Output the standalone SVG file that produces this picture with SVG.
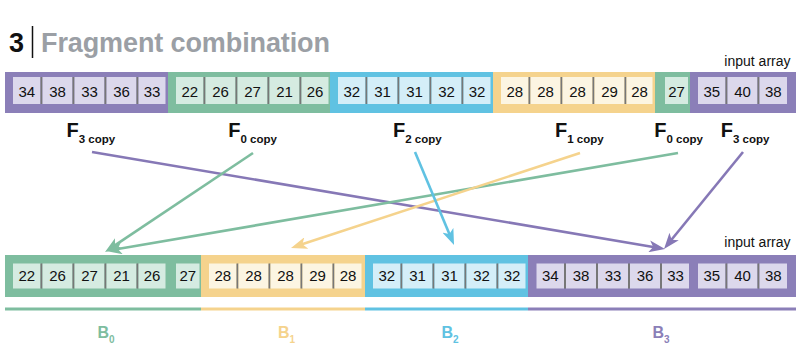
<svg xmlns="http://www.w3.org/2000/svg" width="800" height="352" viewBox="0 0 800 352">
<style>
text{font-family:"Liberation Sans",Arial,Helvetica,sans-serif}
.num{font-size:15px;fill:#111;text-anchor:middle}
.sep{fill:#777}
.bp{fill:#8b7fb8}.bg{fill:#7ebd9f}.bb{fill:#60c2e2}.by{fill:#f5d38d}
.cp{fill:#dcd8ec}.cg{fill:#d5ebe1}.cb{fill:#d4eef8}.cy{fill:#fcf5e2}
.lbl{font-size:20px;font-weight:bold;fill:#111}
.sub{font-size:11.5px}
.blbl{font-size:16px;font-weight:bold;text-anchor:middle}
.bsub{font-size:10px}
.cap{font-size:14px;fill:#111;text-anchor:end}
.arr{fill:none;stroke-width:2.6}
</style>
<defs>
<marker id="mp" markerUnits="userSpaceOnUse" markerWidth="16" markerHeight="12" refX="10" refY="6" orient="auto"><path d="M0,0 L16,6 L0,12 L4,6 z" fill="#8678b6"/></marker>
<marker id="mg" markerUnits="userSpaceOnUse" markerWidth="16" markerHeight="12" refX="10" refY="6" orient="auto"><path d="M0,0 L16,6 L0,12 L4,6 z" fill="#7ebd9f"/></marker>
<marker id="my" markerUnits="userSpaceOnUse" markerWidth="16" markerHeight="12" refX="10" refY="6" orient="auto"><path d="M0,0 L16,6 L0,12 L4,6 z" fill="#f5d38d"/></marker>
<marker id="mb" markerUnits="userSpaceOnUse" markerWidth="16" markerHeight="12" refX="10" refY="6" orient="auto"><path d="M0,0 L16,6 L0,12 L4,6 z" fill="#60c2e2"/></marker>
</defs>
<rect width="800" height="352" fill="#fff"/>

<g id="title">
<text x="9" y="51.5" font-size="27" font-weight="bold" fill="#111">3</text>
<line x1="32.5" y1="26" x2="32.5" y2="58" stroke="#111" stroke-width="1.5"/>
<text x="41" y="51.5" font-size="27" font-weight="bold" fill="#9b9fa5" textLength="289">Fragment combination</text>
</g>

<g id="top-array">
<text class="cap" x="790.5" y="66">input array</text>
<g id="top-f3">
<rect class="bp" x="5" y="72" width="163" height="41"/>
<rect class="cp" x="13" y="77" width="27.5" height="27"/><rect class="sep" x="40.5" y="77" width="2" height="27"/>
<rect class="cp" x="42.5" y="77" width="30" height="27"/><rect class="sep" x="72.5" y="77" width="2" height="27"/>
<rect class="cp" x="74.5" y="77" width="30" height="27"/><rect class="sep" x="104.5" y="77" width="2" height="27"/>
<rect class="cp" x="106.5" y="77" width="30" height="27"/><rect class="sep" x="136.5" y="77" width="2" height="27"/>
<rect class="cp" x="138.5" y="77" width="27" height="27"/>
<text class="num" x="26.75" y="96.5">34</text><text class="num" x="57.5" y="96.5">38</text><text class="num" x="89.5" y="96.5">33</text><text class="num" x="121.5" y="96.5">36</text><text class="num" x="152" y="96.5">33</text>
</g>
<g id="top-f0">
<rect class="bg" x="168" y="72" width="162" height="41"/>
<rect class="cg" x="176" y="77" width="27.5" height="27"/><rect class="sep" x="203.5" y="77" width="2" height="27"/>
<rect class="cg" x="205.5" y="77" width="30" height="27"/><rect class="sep" x="235.5" y="77" width="2" height="27"/>
<rect class="cg" x="237.5" y="77" width="30" height="27"/><rect class="sep" x="267.5" y="77" width="2" height="27"/>
<rect class="cg" x="269.5" y="77" width="30" height="27"/><rect class="sep" x="299.5" y="77" width="2" height="27"/>
<rect class="cg" x="301.5" y="77" width="27" height="27"/>
<text class="num" x="189.75" y="96.5">22</text><text class="num" x="220.5" y="96.5">26</text><text class="num" x="252.5" y="96.5">27</text><text class="num" x="284.5" y="96.5">21</text><text class="num" x="315" y="96.5">26</text>
</g>
<g id="top-f2">
<rect class="bb" x="330" y="72" width="163" height="41"/>
<rect class="cb" x="338" y="77" width="27.5" height="27"/><rect class="sep" x="365.5" y="77" width="2" height="27"/>
<rect class="cb" x="367.5" y="77" width="30" height="27"/><rect class="sep" x="397.5" y="77" width="2" height="27"/>
<rect class="cb" x="399.5" y="77" width="30" height="27"/><rect class="sep" x="429.5" y="77" width="2" height="27"/>
<rect class="cb" x="431.5" y="77" width="30" height="27"/><rect class="sep" x="461.5" y="77" width="2" height="27"/>
<rect class="cb" x="463.5" y="77" width="27" height="27"/>
<text class="num" x="351.75" y="96.5">32</text><text class="num" x="382.5" y="96.5">31</text><text class="num" x="414.5" y="96.5">31</text><text class="num" x="446.5" y="96.5">32</text><text class="num" x="477" y="96.5">32</text>
</g>
<g id="top-f1">
<rect class="by" x="493" y="72" width="162" height="41"/>
<rect class="cy" x="501" y="77" width="27.5" height="27"/><rect class="sep" x="528.5" y="77" width="2" height="27"/>
<rect class="cy" x="530.5" y="77" width="30" height="27"/><rect class="sep" x="560.5" y="77" width="2" height="27"/>
<rect class="cy" x="562.5" y="77" width="30" height="27"/><rect class="sep" x="592.5" y="77" width="2" height="27"/>
<rect class="cy" x="594.5" y="77" width="30" height="27"/><rect class="sep" x="624.5" y="77" width="2" height="27"/>
<rect class="cy" x="626.5" y="77" width="26" height="27"/>
<text class="num" x="514.75" y="96.5">28</text><text class="num" x="545.5" y="96.5">28</text><text class="num" x="577.5" y="96.5">28</text><text class="num" x="609.5" y="96.5">29</text><text class="num" x="639.5" y="96.5">28</text>
</g>
<g id="top-f0b">
<rect class="bg" x="655" y="72" width="35" height="41"/>
<rect class="cg" x="665" y="77" width="23" height="27"/>
<text class="num" x="676.5" y="96.5">27</text>
</g>
<g id="top-f3b">
<rect class="bp" x="690" y="72" width="106" height="41"/>
<rect class="cp" x="698" y="77" width="27.5" height="27"/><rect class="sep" x="725.5" y="77" width="2" height="27"/>
<rect class="cp" x="727.5" y="77" width="30" height="27"/><rect class="sep" x="757.5" y="77" width="2" height="27"/>
<rect class="cp" x="759.5" y="77" width="27.5" height="27"/>
<text class="num" x="711.75" y="96.5">35</text><text class="num" x="742.5" y="96.5">40</text><text class="num" x="773.25" y="96.5">38</text>
</g>
</g>

<g id="labels">
<text class="lbl" x="66.5" y="137">F<tspan class="sub" dy="5.5">3 copy</tspan></text>
<text class="lbl" x="228.3" y="137">F<tspan class="sub" dy="5.5">0 copy</tspan></text>
<text class="lbl" x="393" y="137">F<tspan class="sub" dy="5.5">2 copy</tspan></text>
<text class="lbl" x="555" y="137">F<tspan class="sub" dy="5.5">1 copy</tspan></text>
<text class="lbl" x="654.3" y="137">F<tspan class="sub" dy="5.5">0 copy</tspan></text>
<text class="lbl" x="720.7" y="137">F<tspan class="sub" dy="5.5">3 copy</tspan></text>
</g>

<g id="connectors">
<line class="arr" x1="92" y1="152" x2="659.1" y2="248" stroke="#8678b6" marker-end="url(#mp)"/>
<line class="arr" x1="253" y1="153" x2="110" y2="248.7" stroke="#7ebd9f" marker-end="url(#mg)"/>
<line class="arr" x1="678" y1="153" x2="111.9" y2="250" stroke="#7ebd9f" marker-end="url(#mg)"/>
<line class="arr" x1="580" y1="153" x2="296.7" y2="246.1" stroke="#f5d38d" marker-end="url(#my)"/>
<line class="arr" x1="415" y1="152" x2="451.7" y2="239.5" stroke="#60c2e2" marker-end="url(#mb)"/>
<line class="arr" x1="743" y1="152" x2="667.8" y2="244.3" stroke="#8678b6" marker-end="url(#mp)"/>
</g>

<g id="bottom-array">
<text class="cap" x="790.5" y="247">input array</text>
<g id="bottom-b0">
<rect class="bg" x="5" y="255" width="196" height="42"/>
<rect class="cg" x="13" y="263.5" width="27.5" height="25"/><rect class="sep" x="40.5" y="263.5" width="2" height="25"/>
<rect class="cg" x="42.5" y="263.5" width="30" height="25"/><rect class="sep" x="72.5" y="263.5" width="2" height="25"/>
<rect class="cg" x="74.5" y="263.5" width="30" height="25"/><rect class="sep" x="104.5" y="263.5" width="2" height="25"/>
<rect class="cg" x="106.5" y="263.5" width="30" height="25"/><rect class="sep" x="136.5" y="263.5" width="2" height="25"/>
<rect class="cg" x="138.5" y="263.5" width="27" height="25"/>
<rect class="cg" x="176" y="263.5" width="23.5" height="25"/>
<text class="num" x="26.75" y="281">22</text><text class="num" x="57.5" y="281">26</text><text class="num" x="89.5" y="281">27</text><text class="num" x="121.5" y="281">21</text><text class="num" x="152" y="281">26</text><text class="num" x="187.75" y="281">27</text>
</g>
<g id="bottom-b1">
<rect class="by" x="201" y="255" width="164" height="42"/>
<rect class="cy" x="209" y="263.5" width="27.5" height="25"/><rect class="sep" x="236.5" y="263.5" width="2" height="25"/>
<rect class="cy" x="238.5" y="263.5" width="30" height="25"/><rect class="sep" x="268.5" y="263.5" width="2" height="25"/>
<rect class="cy" x="270.5" y="263.5" width="30" height="25"/><rect class="sep" x="300.5" y="263.5" width="2" height="25"/>
<rect class="cy" x="302.5" y="263.5" width="30" height="25"/><rect class="sep" x="332.5" y="263.5" width="2" height="25"/>
<rect class="cy" x="334.5" y="263.5" width="27" height="25"/>
<text class="num" x="222.75" y="281">28</text><text class="num" x="253.5" y="281">28</text><text class="num" x="285.5" y="281">28</text><text class="num" x="317.5" y="281">29</text><text class="num" x="348" y="281">28</text>
</g>
<g id="bottom-b2">
<rect class="bb" x="365" y="255" width="163" height="42"/>
<rect class="cb" x="373" y="263.5" width="27.5" height="25"/><rect class="sep" x="400.5" y="263.5" width="2" height="25"/>
<rect class="cb" x="402.5" y="263.5" width="30" height="25"/><rect class="sep" x="432.5" y="263.5" width="2" height="25"/>
<rect class="cb" x="434.5" y="263.5" width="30" height="25"/><rect class="sep" x="464.5" y="263.5" width="2" height="25"/>
<rect class="cb" x="466.5" y="263.5" width="30" height="25"/><rect class="sep" x="496.5" y="263.5" width="2" height="25"/>
<rect class="cb" x="498.5" y="263.5" width="27" height="25"/>
<text class="num" x="386.75" y="281">32</text><text class="num" x="417.5" y="281">31</text><text class="num" x="449.5" y="281">31</text><text class="num" x="481.5" y="281">32</text><text class="num" x="512" y="281">32</text>
</g>
<g id="bottom-b3">
<rect class="bp" x="528" y="255" width="268" height="42"/>
<rect class="cp" x="536.5" y="263.5" width="27.5" height="25"/><rect class="sep" x="564" y="263.5" width="2" height="25"/>
<rect class="cp" x="566" y="263.5" width="30" height="25"/><rect class="sep" x="596" y="263.5" width="2" height="25"/>
<rect class="cp" x="598" y="263.5" width="30" height="25"/><rect class="sep" x="628" y="263.5" width="2" height="25"/>
<rect class="cp" x="630" y="263.5" width="30" height="25"/><rect class="sep" x="660" y="263.5" width="2" height="25"/>
<rect class="cp" x="662" y="263.5" width="27" height="25"/>
<rect class="cp" x="698" y="263.5" width="27.5" height="25"/><rect class="sep" x="725.5" y="263.5" width="2" height="25"/>
<rect class="cp" x="727.5" y="263.5" width="30" height="25"/><rect class="sep" x="757.5" y="263.5" width="2" height="25"/>
<rect class="cp" x="759.5" y="263.5" width="27.5" height="25"/>
<text class="num" x="550.25" y="281">34</text><text class="num" x="581" y="281">38</text><text class="num" x="613" y="281">33</text><text class="num" x="645" y="281">36</text><text class="num" x="675.5" y="281">33</text>
<text class="num" x="711.75" y="281">35</text><text class="num" x="742.5" y="281">40</text><text class="num" x="773.25" y="281">38</text>
</g>
</g>

<g id="buckets">
<rect class="bg" x="5" y="307.5" width="196" height="3"/>
<rect class="by" x="201" y="307.5" width="164" height="3"/>
<rect class="bb" x="365" y="307.5" width="163" height="3"/>
<rect class="bp" x="528" y="307.5" width="268" height="3"/>
<text class="blbl" x="106" y="338" fill="#7ebd9f">B<tspan class="bsub" dy="5">0</tspan></text>
<text class="blbl" x="286.5" y="338" fill="#f5d38d">B<tspan class="bsub" dy="5">1</tspan></text>
<text class="blbl" x="450" y="338" fill="#60c2e2">B<tspan class="bsub" dy="5">2</tspan></text>
<text class="blbl" x="661" y="338" fill="#8b7fb8">B<tspan class="bsub" dy="5">3</tspan></text>
</g>
</svg>
